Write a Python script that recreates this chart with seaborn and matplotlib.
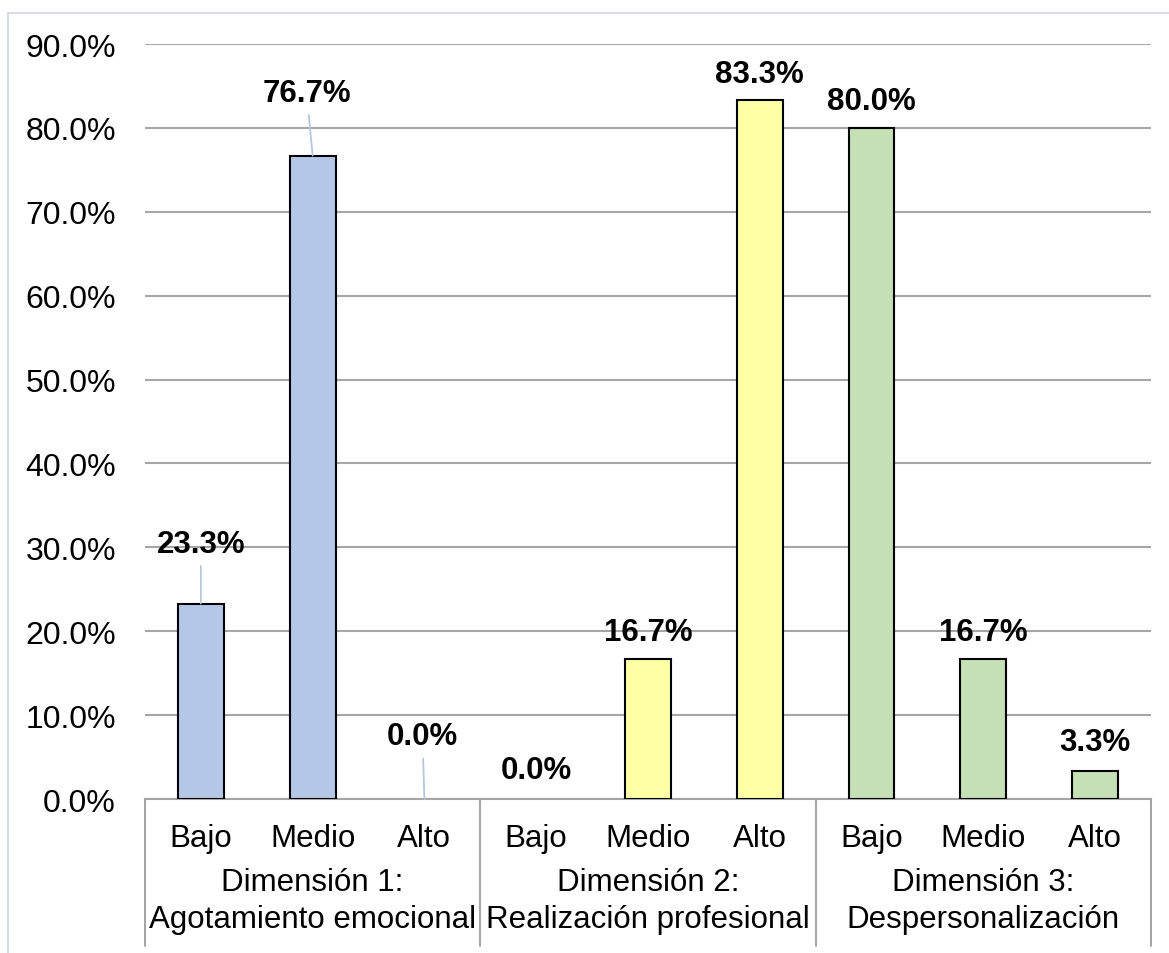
import numpy as np
import pandas as pd
import matplotlib
matplotlib.use("Agg")
import matplotlib.pyplot as plt
import matplotlib.transforms as mtransforms
import seaborn as sns

# datos
dimensiones = ["Dimensión 1:\nAgotamiento emocional",
               "Dimensión 2:\nRealización profesional",
               "Dimensión 3:\nDespersonalización"]
niveles = ["Bajo", "Medio", "Alto"]
porcentajes_d1 = [23.3, 76.7, 0.0]
porcentajes_d2 = [0.0, 16.7, 83.3]
porcentajes_d3 = [80.0, 16.7, 3.3]
colores = ["#B4C7E7", "#FFFFA6", "#C5E0B4"]
yticks = [0, 10, 20, 30, 40, 50, 60, 70, 80, 90]

# desplazamiento de las etiquetas (pixeles) y lineas guia
desplaz_etiquetas = [(0, 60), (-6, 63), (-2, 63),
                     (0, 29), (0, 27), (0, 26),
                     (0, 27), (0, 27), (0, 29)]
con_guia = [True, True, True, False, False, False, False, False, False]

filas = []
for dim, vals in zip(dimensiones, [porcentajes_d1, porcentajes_d2, porcentajes_d3]):
    for niv, v in zip(niveles, vals):
        filas.append({"dim": dim, "nivel": niv, "cat": f"{dim}|{niv}", "valor": v})
df = pd.DataFrame(filas)

sns.set_style("white")
plt.rcParams["font.family"] = ["Liberation Sans", "DejaVu Sans"]
plt.rcParams["text.color"] = "black"
plt.rcParams["xtick.color"] = "black"
plt.rcParams["ytick.color"] = "black"

fig = plt.figure(figsize=(11.69, 9.54), dpi=100)
ax = fig.add_axes([0.124, 0.1614, 0.8606, 0.7914])

sns.barplot(data=df, x="cat", y="valor", hue="dim", palette=colores,
            dodge=False, width=0.41, edgecolor="black", linewidth=1.5,
            saturation=1, legend=False, ax=ax, zorder=3)
# Excel no dibuja las barras de 0%
for p in ax.patches:
    if p.get_height() == 0:
        p.set_linewidth(0)

ax.set_ylim(0, 90)
ax.set_xlim(-0.5, 8.5)
ax.set_yticks(yticks)
ax.set_yticklabels([f"{t:.1f}%" for t in yticks], fontsize=23)
ax.set_xticks(range(len(df)))
ax.set_xticklabels(df["nivel"], fontsize=22.5)
ax.tick_params(axis="y", length=0, pad=21)
ax.tick_params(axis="x", length=0, pad=17)
ax.set_xlabel("")
ax.set_ylabel("")
ax.yaxis.grid(True, color="#A6A6A6", linewidth=1.5, zorder=0)
for s in ["left", "right", "top"]:
    ax.spines[s].set_visible(False)
ax.spines["bottom"].set_color("#A6A6A6")
ax.spines["bottom"].set_linewidth(1.5)

# etiquetas de datos
for i, (v, off, guia) in enumerate(zip(df["valor"], desplaz_etiquetas, con_guia)):
    arrow = dict(arrowstyle="-", color="#B4C7DC", lw=1.3, shrinkA=3, shrinkB=0) if guia else None
    ax.annotate(f"{v:.1f}%", xy=(i, v), xytext=off, textcoords="offset pixels",
                ha="center", va="center", fontsize=22.5, fontweight="bold",
                arrowprops=arrow, annotation_clip=False, zorder=5)

# eje de categorias en dos niveles
trans = mtransforms.blended_transform_factory(ax.transData, ax.transAxes)
for x in [-0.5, 2.5, 5.5, 8.5]:
    ax.plot([x, x], [0, -0.195], transform=trans, color="#A6A6A6",
            linewidth=1.5, clip_on=False)
for k, dim in enumerate(dimensiones):
    ax.text(3 * k + 1, -0.09, dim, transform=trans, ha="center", va="top",
            fontsize=22.5, linespacing=1.3)

# borde del area del grafico
fig.add_artist(plt.Line2D([8 / 1169, 8 / 1169], [0, 1 - 14 / 954],
                          transform=fig.transFigure, color="#D9DEE6", lw=1.5))
fig.add_artist(plt.Line2D([8 / 1169, 1], [1 - 14 / 954, 1 - 14 / 954],
                          transform=fig.transFigure, color="#D9DEE6", lw=1.5))

fig.savefig("out.png", dpi=100)
